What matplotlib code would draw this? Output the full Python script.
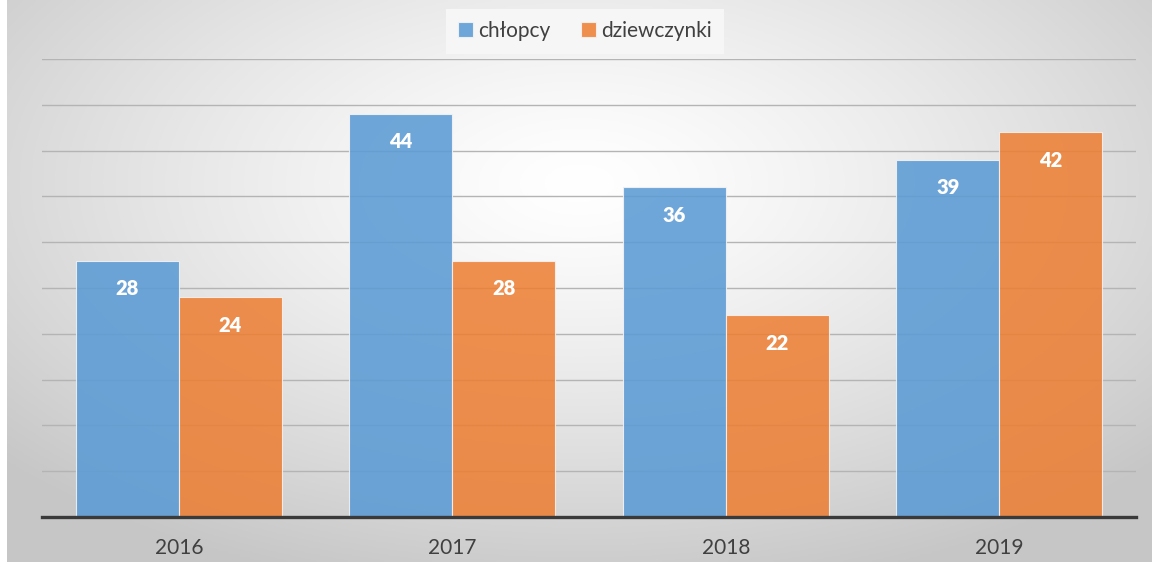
import matplotlib.pyplot as plt
import numpy as np

# data
years = ['2016', '2017', '2018', '2019']
chlopcy = [28, 44, 36, 39]
dziewczynki = [24, 28, 22, 42]
series_names = ['chłopcy', 'dziewczynki']

plt.rcParams['font.family'] = ['Lato', 'DejaVu Sans']

fig = plt.figure(figsize=(11.52, 5.62), dpi=100)

# radial gradient background
bg = fig.add_axes([7 / 1152, 0, 1 - 7 / 1152, 1], zorder=0)
gx, gy = np.meshgrid(np.linspace(-1, 1, 400), np.linspace(-1, 1, 200))
r = np.sqrt((gx / 1.0) ** 2 + ((gy - 0.35) / 1.1) ** 2)
shade = 1.0 - 0.22 * np.clip(r / 1.35, 0, 1) ** 1.3
bg.imshow(np.dstack([shade] * 3), aspect='auto', origin='lower', extent=[0, 1, 0, 1])
bg.axis('off')

ax = fig.add_axes([42 / 1152, 45 / 562, (1136 - 42) / 1152, (517 - 59) / 562], zorder=1)
ax.patch.set_alpha(0)

x = np.arange(len(years))
w = 0.377
b1 = ax.bar(x - w / 2, chlopcy, w, color='#5B9BD5', alpha=0.88, edgecolor='#f4f4f4',
            linewidth=0.8, label=series_names[0], zorder=3)
b2 = ax.bar(x + w / 2, dziewczynki, w, color='#ED7D31', alpha=0.85, edgecolor='#f4f4f4',
            linewidth=0.8, label=series_names[1], zorder=3)

for bars, vals in [(b1, chlopcy), (b2, dziewczynki)]:
    for bar, v in zip(bars, vals):
        ax.annotate(str(v), (bar.get_x() + bar.get_width() / 2, v), xytext=(0, -28),
                    textcoords='offset pixels',
                    ha='center', va='center', color='white', fontsize=14.5,
                    fontweight='heavy', zorder=4)

ax.set_xlim(-0.5, 3.5)
ax.set_ylim(0, 50)
ax.set_yticks(np.arange(5, 51, 5))
ax.yaxis.grid(True, color='#b4b4b4', linewidth=1)
ax.set_axisbelow(True)
ax.tick_params(axis='y', left=False, labelleft=False)
ax.tick_params(axis='x', length=0, pad=15, labelsize=15, labelcolor='#404040')
ax.set_xticks(x)
ax.set_xticklabels(years)
for s in ['top', 'right', 'left']:
    ax.spines[s].set_visible(False)
ax.spines['bottom'].set_color('#3a3a3a')
ax.spines['bottom'].set_linewidth(2.4)
ax.spines['bottom'].set_zorder(5)

leg = fig.legend(loc='center', bbox_to_anchor=(585 / 1152, 1 - 31 / 562), ncol=2,
                 frameon=True, fontsize=15, handlelength=0.7, handleheight=0.7,
                 handletextpad=0.25, columnspacing=1.5, borderpad=0.6, fancybox=False)
leg.get_frame().set_facecolor('#f6f6f6')
leg.get_frame().set_edgecolor('none')
leg.get_frame().set_alpha(1)
for t in leg.get_texts():
    t.set_color('#404040')

fig.savefig('out.png', dpi=100)
